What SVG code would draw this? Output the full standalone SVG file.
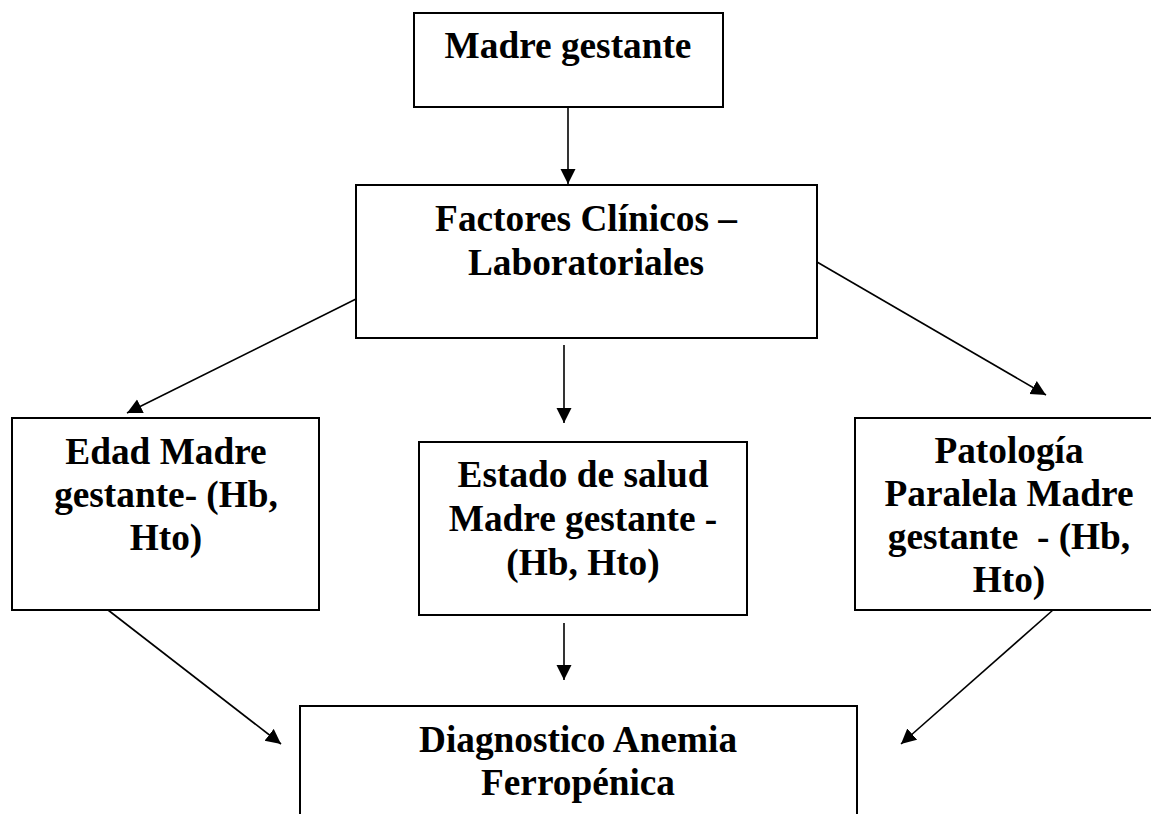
<svg xmlns="http://www.w3.org/2000/svg" width="1151" height="814" viewBox="0 0 1151 814">
<defs>
<style>
.box{fill:#fff;stroke:#000;stroke-width:2}
.t{font-family:"Liberation Serif","Times New Roman",serif;font-weight:bold;font-size:37.3px;text-anchor:middle;fill:#000}
.c{stroke:#000;stroke-width:1.6;fill:none;marker-end:url(#ah)}
</style>
<marker id="ah" markerUnits="userSpaceOnUse" markerWidth="16" markerHeight="16" viewBox="0 0 16 16" refX="15" refY="7.5" orient="auto">
<path d="M0,0 L15,7.5 L0,15 z" fill="#000"/>
</marker>
</defs>
<rect width="1151" height="814" fill="#fff"/>
<g id="n-madre">
<rect class="box" x="414" y="13" width="309" height="94"/>
<text class="t" x="568" y="58">Madre gestante</text>
</g>
<g id="n-factores">
<rect class="box" x="356" y="185" width="461" height="153"/>
<text class="t" x="586" y="231">Factores Clínicos –</text>
<text class="t" x="586" y="275">Laboratoriales</text>
</g>
<g id="n-edad">
<rect class="box" x="12" y="418" width="307" height="192"/>
<text class="t" x="166" y="464">Edad Madre</text>
<text class="t" x="166" y="507">gestante- (Hb,</text>
<text class="t" x="166" y="550">Hto)</text>
</g>
<g id="n-estado">
<rect class="box" x="419" y="442" width="328" height="173"/>
<text class="t" x="583" y="487">Estado de salud</text>
<text class="t" x="583" y="531">Madre gestante -</text>
<text class="t" x="583" y="575">(Hb, Hto)</text>
</g>
<g id="n-patologia">
<rect class="box" x="855" y="418" width="310" height="192"/>
<text class="t" x="1009" y="463">Patología</text>
<text class="t" x="1009" y="506">Paralela Madre</text>
<text class="t" x="1009" y="549" xml:space="preserve">gestante  - (Hb,</text>
<text class="t" x="1009" y="592">Hto)</text>
</g>
<g id="n-diag">
<rect class="box" x="300" y="706" width="557" height="130"/>
<text class="t" x="578" y="752">Diagnostico Anemia</text>
<text class="t" x="578" y="795">Ferropénica</text>
</g>
<g id="connectors">
<line class="c" x1="568" y1="107" x2="568" y2="184"/>
<line class="c" x1="356" y1="299" x2="127" y2="413"/>
<line class="c" x1="564" y1="345" x2="564" y2="423"/>
<line class="c" x1="817" y1="262" x2="1046" y2="395"/>
<line class="c" x1="108" y1="610" x2="281" y2="744"/>
<line class="c" x1="564" y1="623" x2="564" y2="680"/>
<line class="c" x1="1053" y1="610" x2="901" y2="744"/>
</g>
</svg>
